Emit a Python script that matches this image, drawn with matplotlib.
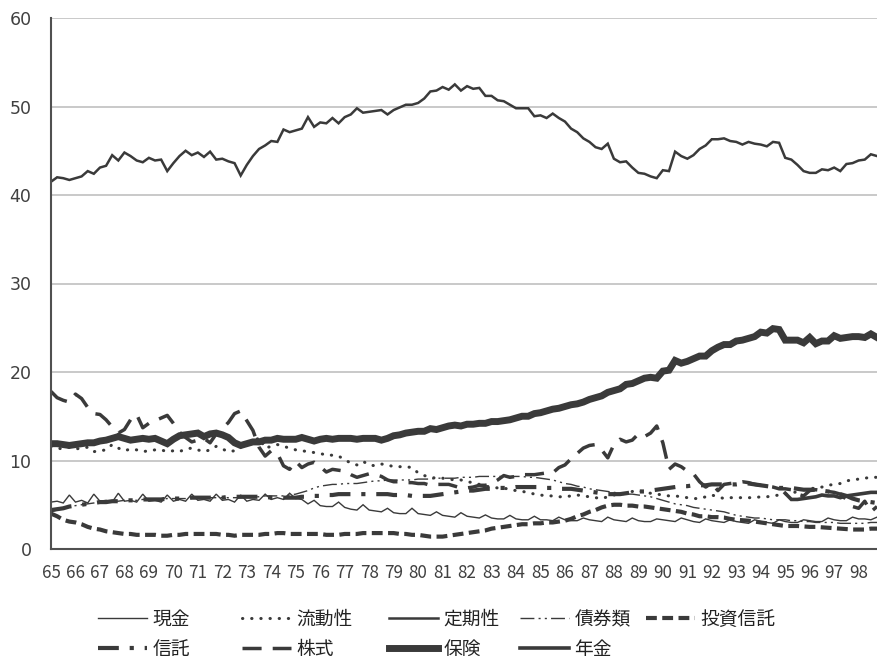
import numpy as np
import matplotlib
matplotlib.use("Agg")
import matplotlib.pyplot as plt

plt.rcParams['font.family'] = ['Noto Sans CJK JP', 'DejaVu Sans']

years = [str(y) for y in range(65, 99)]

genkin = [5.3, 5.4, 5.2, 6.1, 5.3, 5.5, 5.2, 6.2, 5.4, 5.5,
          5.3, 6.3, 5.4, 5.5, 5.3, 6.2, 5.4, 5.5, 5.3, 6.1,
          5.4, 5.6, 5.4, 6.2, 5.5, 5.6, 5.4, 6.2, 5.5, 5.6,
          5.3, 6.1, 5.4, 5.6, 5.5, 6.2, 5.6, 5.8, 5.6, 6.3,
          5.7, 5.6, 5.1, 5.5, 4.9, 4.8, 4.8, 5.3, 4.7, 4.5,
          4.4, 5.0, 4.4, 4.3, 4.2, 4.6, 4.1, 4.0, 4.0, 4.6,
          4.0, 3.9, 3.8, 4.2, 3.8, 3.7, 3.6, 4.1, 3.7, 3.6,
          3.5, 3.85, 3.5, 3.4, 3.4, 3.8, 3.4, 3.3, 3.3, 3.7,
          3.3, 3.3, 3.2, 3.6, 3.3, 3.2, 3.2, 3.5, 3.3, 3.2,
          3.1, 3.6, 3.3, 3.2, 3.1, 3.5, 3.2, 3.1, 3.1, 3.4,
          3.3, 3.2, 3.1, 3.5, 3.3, 3.1, 3.0, 3.4, 3.2, 3.1,
          3.0, 3.3, 3.1, 3.0, 2.9, 3.3, 3.1, 3.0, 2.9, 3.3,
          3.1, 3.0, 3.0, 3.3, 3.2, 3.1, 3.1, 3.5, 3.3, 3.2,
          3.2, 3.6, 3.4, 3.4, 3.3, 3.6]

ryudo = [11.6, 11.4, 11.3, 11.5, 11.3, 11.4, 11.5, 11.0, 11.1, 11.2,
         11.8, 11.4, 11.1, 11.3, 11.2, 11.0, 11.1, 11.2, 11.2, 11.0,
         11.1, 11.0, 11.3, 11.4, 11.2, 11.0, 11.2, 11.6, 11.3, 11.0,
         11.1, 11.5, 11.8, 12.0, 12.6, 11.4, 11.6, 11.8, 11.6, 11.4,
         11.2, 11.1, 11.0, 10.9, 10.8, 10.6, 10.6, 10.5, 10.1, 9.7,
         9.5, 9.9, 9.5, 9.4, 9.6, 9.5, 9.3, 9.3, 9.3, 9.2,
         8.6, 8.3, 8.1, 8.0, 8.0, 7.9, 7.8, 7.8, 7.6, 7.5,
         7.3, 7.1, 7.0, 6.9, 6.9, 6.7, 6.6, 6.5, 6.4, 6.2,
         6.1, 6.0, 6.0, 5.9, 5.9, 6.0, 6.1, 6.0, 5.9, 5.8,
         5.7, 5.9, 6.1, 6.2, 6.3, 6.5, 6.6, 6.4, 6.3, 6.2,
         6.1, 6.0, 6.0, 5.9, 5.8, 5.7, 5.7, 5.9, 6.1, 5.9,
         5.7, 5.8, 5.8, 5.8, 5.8, 5.8, 5.9, 5.9, 6.0, 6.1,
         6.2, 6.3, 6.5, 6.7, 6.8, 6.9, 7.0, 7.2, 7.3, 7.4,
         7.7, 7.8, 7.9, 8.0, 8.1, 8.1]

teiki = [41.5, 42.0, 41.9, 41.7, 41.9, 42.1, 42.7, 42.4, 43.1, 43.3,
         44.5, 43.9, 44.8, 44.4, 43.9, 43.7, 44.2, 43.9, 44.0, 42.7,
         43.6, 44.4, 45.0, 44.5, 44.8, 44.3, 44.9, 44.0, 44.1, 43.8,
         43.6, 42.2, 43.4, 44.4, 45.2, 45.6, 46.1, 46.0, 47.4, 47.1,
         47.3, 47.5, 48.8, 47.7, 48.2, 48.1, 48.7, 48.1, 48.8, 49.1,
         49.8, 49.3, 49.4, 49.5, 49.6, 49.1, 49.6, 49.9, 50.2, 50.2,
         50.4, 50.9, 51.7, 51.8, 52.2, 51.9, 52.5, 51.8, 52.3, 52.0,
         52.1, 51.2, 51.2, 50.7, 50.6, 50.2, 49.8, 49.8, 49.8, 48.9,
         49.0, 48.7, 49.2, 48.7, 48.3, 47.5, 47.1, 46.4, 46.0, 45.4,
         45.2, 45.8, 44.1, 43.7, 43.8, 43.1, 42.5, 42.4, 42.1, 41.9,
         42.8, 42.7, 44.9, 44.4, 44.1, 44.5, 45.2, 45.6, 46.3, 46.3,
         46.4, 46.1, 46.0, 45.7, 46.0, 45.8, 45.7, 45.5, 46.0, 45.9,
         44.2, 44.0, 43.4, 42.7, 42.5, 42.5, 42.9, 42.8, 43.1, 42.7,
         43.5, 43.6, 43.9, 44.0, 44.6, 44.4]

saiken = [4.2, 4.4, 4.6, 4.8, 4.9, 5.0, 5.1, 5.2, 5.3, 5.3,
          5.4, 5.4, 5.5, 5.5, 5.5, 5.6, 5.6, 5.6, 5.6, 5.7,
          5.7, 5.7, 5.7, 5.8, 5.8, 5.8, 5.8, 5.8, 5.8, 5.8,
          5.8, 5.8, 5.9, 5.9, 5.9, 6.0, 6.0, 6.0, 6.0, 6.1,
          6.2, 6.4, 6.6, 6.9, 7.1, 7.2, 7.3, 7.3, 7.4, 7.4,
          7.4, 7.5, 7.6, 7.7, 7.7, 7.8, 7.8, 7.8, 7.8, 7.8,
          7.9, 7.9, 7.9, 8.0, 8.0, 8.0, 8.0, 8.1, 8.1, 8.1,
          8.2, 8.2, 8.2, 8.2, 8.2, 8.2, 8.2, 8.2, 8.1, 8.1,
          8.0, 7.9, 7.8, 7.6, 7.4, 7.3, 7.1, 7.0, 6.8, 6.7,
          6.6, 6.5, 6.4, 6.3, 6.2, 6.2, 6.1, 6.0, 5.9, 5.7,
          5.5, 5.3, 5.1, 5.0, 4.9, 4.7, 4.6, 4.5, 4.4, 4.3,
          4.2, 4.0, 3.8, 3.7, 3.6, 3.5, 3.5, 3.4, 3.3, 3.3,
          3.3, 3.2, 3.2, 3.1, 3.1, 3.0, 3.0, 3.0, 3.0, 2.9,
          2.9, 2.9, 2.9, 2.9, 3.0, 3.0]

toushin = [4.0, 3.7, 3.3, 3.1, 3.0, 2.8, 2.5, 2.3, 2.2, 2.0,
           1.9, 1.8, 1.7, 1.7, 1.6, 1.6, 1.6, 1.6, 1.5, 1.5,
           1.6, 1.6, 1.7, 1.7, 1.7, 1.7, 1.7, 1.7, 1.6, 1.6,
           1.5, 1.6, 1.6, 1.6, 1.6, 1.7, 1.7, 1.8, 1.8, 1.7,
           1.7, 1.7, 1.7, 1.7, 1.7, 1.6, 1.6, 1.6, 1.7, 1.7,
           1.7, 1.8, 1.8, 1.8, 1.8, 1.8, 1.8, 1.7, 1.7, 1.6,
           1.6, 1.5, 1.4, 1.4, 1.4, 1.5, 1.6, 1.7, 1.8, 1.9,
           2.0, 2.1, 2.3, 2.4, 2.5, 2.6, 2.7, 2.8, 2.8, 2.9,
           2.9, 3.0, 3.0, 3.1, 3.2, 3.4, 3.7, 3.9, 4.2, 4.4,
           4.7, 4.9, 5.0, 5.0, 4.9, 4.9, 4.8, 4.8, 4.7, 4.6,
           4.5, 4.4, 4.3, 4.2, 4.0, 3.9, 3.7, 3.7, 3.6, 3.6,
           3.55, 3.4, 3.3, 3.25, 3.2, 3.1, 3.0, 2.9, 2.8, 2.7,
           2.6, 2.6, 2.6, 2.55, 2.5, 2.5, 2.45, 2.4, 2.35, 2.3,
           2.25, 2.2, 2.2, 2.2, 2.3, 2.3]

shintaku = [4.4, 4.5, 4.6, 4.8, 4.9, 5.0, 5.1, 5.2, 5.3, 5.3,
            5.4, 5.4, 5.5, 5.5, 5.5, 5.6, 5.6, 5.6, 5.6, 5.7,
            5.7, 5.7, 5.7, 5.8, 5.8, 5.8, 5.8, 5.8, 5.8, 5.9,
            5.9, 5.9, 5.9, 5.9, 5.9, 5.9, 5.8, 5.8, 5.8, 5.8,
            5.8, 5.9, 5.9, 6.0, 6.0, 6.1, 6.1, 6.2, 6.2, 6.2,
            6.2, 6.2, 6.2, 6.2, 6.2, 6.2, 6.1, 6.1, 6.1, 6.0,
            6.0, 6.0, 6.0, 6.1, 6.2, 6.3, 6.4, 6.5, 6.6, 6.6,
            6.7, 6.8, 6.8, 6.9, 6.9, 6.9, 7.0, 7.0, 7.0, 7.0,
            7.0, 6.9, 6.9, 6.8, 6.8, 6.8, 6.7, 6.6, 6.5, 6.4,
            6.3, 6.2, 6.2, 6.2, 6.3, 6.4, 6.5, 6.5, 6.6, 6.7,
            6.8, 6.9, 7.0, 7.1, 7.1, 7.2, 7.2, 7.2, 7.3, 7.3,
            7.3, 7.3, 7.3, 7.4, 7.4, 7.3, 7.2, 7.1, 7.0, 6.9,
            6.9, 6.9, 6.8, 6.7, 6.7, 6.7, 6.6, 6.5, 6.4, 6.2,
            6.0, 5.7, 5.5, 5.4, 5.3, 5.2]

kabu = [17.8, 17.1, 16.8, 16.6, 17.5, 17.0, 16.0, 15.3, 15.2, 14.6,
        13.8, 13.1, 13.5, 14.6, 15.2, 13.7, 14.2, 14.5, 14.8, 15.1,
        14.2, 13.2, 12.6, 12.1, 12.3, 12.5, 12.0, 13.0, 13.6, 14.3,
        15.3, 15.6, 14.5, 13.4, 11.5, 10.5, 11.1, 10.8, 9.4, 9.0,
        9.9, 9.2, 9.6, 9.8, 9.3, 8.7, 9.0, 8.9, 8.8, 8.4,
        8.1, 8.3, 8.5, 8.4, 8.2, 7.8, 7.6, 7.6, 7.5, 7.5,
        7.4, 7.4, 7.2, 7.3, 7.3, 7.3, 7.1, 6.9, 6.9, 7.0,
        7.2, 7.2, 7.4, 7.8, 8.3, 8.1, 8.2, 8.4, 8.4, 8.4,
        8.5, 8.6, 8.6, 9.2, 9.5, 10.2, 10.8, 11.4, 11.7, 11.8,
        11.2, 10.3, 11.8, 12.4, 12.1, 12.3, 13.0, 12.7, 13.1, 13.9,
        12.0, 9.0, 9.6, 9.3, 8.8, 8.5, 7.6, 7.0, 7.4, 6.6,
        7.3, 7.4, 7.5, 7.6, 7.5, 7.3, 7.2, 7.1, 7.0, 6.8,
        6.8, 6.7, 6.2, 6.0, 6.6, 6.7, 6.6, 6.5, 6.4, 6.2,
        5.6, 4.8, 4.6, 5.4, 4.2, 4.8]

hoken = [11.9, 11.9, 11.8, 11.7, 11.8, 11.9, 12.0, 12.0, 12.2, 12.3,
         12.5, 12.7, 12.5, 12.3, 12.4, 12.5, 12.4, 12.5, 12.2, 11.9,
         12.4, 12.8, 12.9, 13.0, 13.1, 12.7, 13.0, 13.1, 12.9, 12.6,
         12.0, 11.7, 11.9, 12.1, 12.1, 12.3, 12.3, 12.5, 12.4, 12.4,
         12.4, 12.6, 12.4, 12.2, 12.4, 12.5, 12.4, 12.5, 12.5, 12.5,
         12.4, 12.5, 12.5, 12.5, 12.3, 12.5, 12.8, 12.9, 13.1, 13.2,
         13.3, 13.3, 13.6, 13.5, 13.7, 13.9, 14.0, 13.9, 14.1, 14.1,
         14.2, 14.2, 14.4, 14.4, 14.5, 14.6, 14.8, 15.0, 15.0, 15.3,
         15.4, 15.6, 15.8, 15.9, 16.1, 16.3, 16.4, 16.6, 16.9, 17.1,
         17.3, 17.7, 17.9, 18.1, 18.6, 18.7, 19.0, 19.3, 19.4, 19.3,
         20.1, 20.2, 21.3, 21.0, 21.2, 21.5, 21.8, 21.8, 22.4, 22.8,
         23.1, 23.1, 23.5, 23.6, 23.8, 24.0, 24.5, 24.4, 24.9, 24.8,
         23.6, 23.6, 23.6, 23.3, 23.9, 23.2, 23.5, 23.5, 24.1, 23.8,
         23.9, 24.0, 24.0, 23.9, 24.3, 23.9]

nenkin = [np.nan] * 120 + [6.3, 5.6, 5.6, 5.7, 5.8, 5.9, 6.1, 6.0, 6.0, 5.8,
                           6.0, 6.1, 6.2, 6.3, 6.4, 6.4]

C = '#3a3a3a'
W, H = 878, 664
fig = plt.figure(figsize=(W / 100, H / 100), dpi=100)
ax = fig.add_axes([51 / W, 1 - 549 / H, (877 - 51) / W, (549 - 18) / H])

x = np.arange(len(teiki))
styles = [
    ('現金', genkin, dict(lw=1.0, ls='-')),
    ('流動性', ryudo, dict(lw=2.2, ls=(0, (0.1, 2.9)), dash_capstyle='round')),
    ('定期性', teiki, dict(lw=1.8, ls='-')),
    ('債券類', saiken, dict(lw=1.0, ls=(0, (10, 3, 1.5, 3, 1.5, 3)))),
    ('投資信託', toushin, dict(lw=3.0, ls=(0, (2.6, 1.3)))),
    ('信託', shintaku, dict(lw=3.0, ls=(0, (5, 2.6, 1, 2.6)))),
    ('株式', kabu, dict(lw=2.5, ls=(0, (5.5, 3.2)))),
    ('保険', hoken, dict(lw=5.0, ls='-')),
    ('年金', nenkin, dict(lw=2.6, ls='-')),
]
handles = {}
for name, vals, kw in styles:
    ln, = ax.plot(x, vals, color=C, label=name, solid_joinstyle='miter', **kw)
    handles[name] = ln

ax.set_xlim(0, len(teiki) - 1)
ax.set_ylim(0, 60)
ax.set_yticks(range(0, 61, 10))
ax.set_xticks(range(0, len(teiki), 4))
ax.set_xticklabels(years)
ax.tick_params(axis='both', length=0, colors='#404040')
ax.tick_params(axis='y', pad=14, labelsize=12.5)
ax.tick_params(axis='x', pad=11, labelsize=12.3)
for lab in ax.get_yticklabels():
    lab.set_family('DejaVu Sans')
ax.grid(axis='y', color='#c0c0c0', lw=1.2)
ax.set_axisbelow(True)
for s in ['top', 'right']:
    ax.spines[s].set_visible(False)
ax.spines['left'].set_color('#505050')
ax.spines['left'].set_linewidth(1.5)
ax.spines['bottom'].set_color('#505050')
ax.spines['bottom'].set_linewidth(1.5)

cols = [(98, ['現金', '信託']), (242, ['流動性', '株式']), (389, ['定期性', '保険']),
        (520, ['債券類', '年金']), (646, ['投資信託'])]
for xc, names in cols:
    fig.legend([handles[n] for n in names], names, loc='upper left',
               bbox_to_anchor=(xc / W, 1 - 609 / H), frameon=False,
               fontsize=13.5, handlelength=2.6, handletextpad=0.3,
               borderpad=0, borderaxespad=0, labelspacing=0.48,
               labelcolor='#222222')

fig.savefig('out.png', dpi=100)
